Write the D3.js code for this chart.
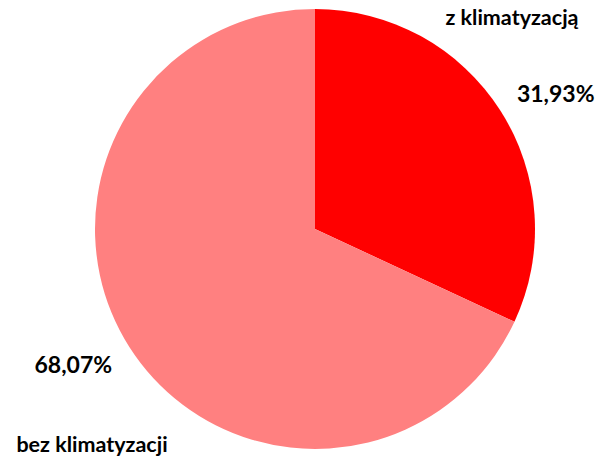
<!DOCTYPE html>
<html>
<head>
<meta charset="utf-8">
<script src="https://cdn.jsdelivr.net/npm/d3@7"></script>
<style>
  body { margin: 0; background: #fff; }
  text { font-family: Lato, "Open Sans", sans-serif; font-weight: bold; fill: #000; }
</style>
</head>
<body>
<svg id="chart"></svg>
<script>
// data
var categories = ["z klimatyzacją", "bez klimatyzacji"];
var values = [31.93, 68.07];
var valueLabels = ["31,93%", "68,07%"];
var colors = ["#ff0000", "#ff8080"];

var width = 609, height = 463;
var cx = 315, cy = 229, radius = 220;

var svg = d3.select("#chart")
  .attr("width", width)
  .attr("height", height);

var g = svg.append("g")
  .attr("transform", "translate(" + cx + "," + cy + ")");

var pie = d3.pie().sort(null).value(function (d) { return d; });
var arcs = pie(values);

var arc = d3.arc().innerRadius(0).outerRadius(radius);

g.selectAll("path")
  .data(arcs)
  .enter()
  .append("path")
  .attr("d", arc)
  .attr("fill", function (d, i) { return colors[i]; });

// percentage labels, just outside the pie
var labelArc = d3.arc().innerRadius(276).outerRadius(276);
var pctShift = [[8, 12], [-9, -13]];
g.selectAll("text.pct")
  .data(arcs)
  .enter()
  .append("text")
  .attr("class", "pct")
  .attr("x", function (d, i) { return labelArc.centroid(d)[0] + pctShift[i][0]; })
  .attr("y", function (d, i) { return labelArc.centroid(d)[1] + pctShift[i][1]; })
  .attr("text-anchor", "middle")
  .attr("dominant-baseline", "central")
  .style("font-size", "23px")
  .text(function (d, i) { return valueLabels[i]; });

// category labels
var catPos = [[197, -212], [-223, 215]];
g.selectAll("text.cat")
  .data(categories)
  .enter()
  .append("text")
  .attr("class", "cat")
  .attr("x", function (d, i) { return catPos[i][0]; })
  .attr("y", function (d, i) { return catPos[i][1]; })
  .attr("text-anchor", "middle")
  .attr("dominant-baseline", "central")
  .style("font-size", "21.5px")
  .text(function (d) { return d; });
</script>
</body>
</html>
